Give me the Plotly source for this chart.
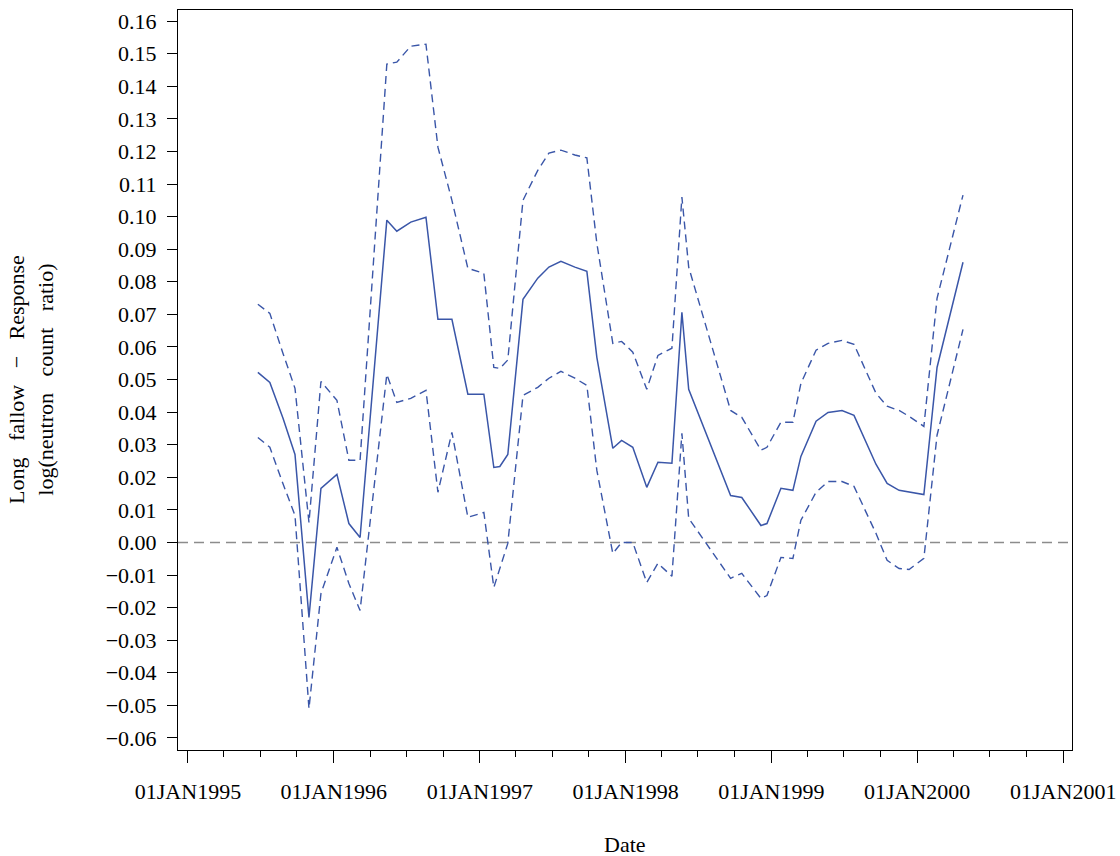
import plotly.graph_objects as go

dates = [
    "1995-06-25", "1995-07-25", "1995-08-27", "1995-09-26", "1995-10-31", "1995-11-30",
    "1996-01-09", "1996-02-08", "1996-03-07", "1996-05-13", "1996-06-07", "1996-07-12",
    "1996-08-19", "1996-09-18", "1996-10-23", "1996-12-02", "1997-01-11", "1997-02-05",
    "1997-02-20", "1997-03-12", "1997-04-19", "1997-05-26", "1997-06-23", "1997-07-23",
    "1997-08-27", "1997-09-26", "1997-10-21", "1997-11-30", "1997-12-22", "1998-01-19",
    "1998-02-23", "1998-03-23", "1998-04-27", "1998-05-22", "1998-06-08", "1998-09-21",
    "1998-10-19", "1998-12-06", "1998-12-21", "1999-01-25", "1999-02-24", "1999-03-16",
    "1999-04-23", "1999-05-23", "1999-06-27", "1999-07-27", "1999-09-20", "1999-10-18",
    "1999-11-17", "1999-12-12", "2000-01-18", "2000-02-20", "2000-04-25",
]

estimate = [
    0.0522, 0.0491, 0.0381, 0.0270, -0.0230, 0.0166,
    0.0209, 0.0058, 0.0015, 0.0989, 0.0955, 0.0983,
    0.0998, 0.0685, 0.0685, 0.0455, 0.0455, 0.0230,
    0.0233, 0.0270, 0.0746, 0.0811, 0.0845, 0.0863,
    0.0845, 0.0832, 0.0568, 0.0289, 0.0313, 0.0292,
    0.0169, 0.0246, 0.0243, 0.0706, 0.0470, 0.0144,
    0.0138, 0.0052, 0.0058, 0.0166, 0.0160, 0.0264,
    0.0372, 0.0399, 0.0405, 0.0390, 0.0240, 0.0181,
    0.0160, 0.0154, 0.0147, 0.0537, 0.0860,
]

upper = [
    0.0731, 0.0703, 0.0580, 0.0473, 0.0061, 0.0494,
    0.0436, 0.0252, 0.0252, 0.1468, 0.1474, 0.1523,
    0.1529, 0.1213, 0.1050, 0.0841, 0.0826, 0.0537,
    0.0534, 0.0560, 0.1050, 0.1142, 0.1195, 0.1204,
    0.1189, 0.1180, 0.0918, 0.0611, 0.0617, 0.0584,
    0.0470, 0.0574, 0.0596, 0.1060, 0.0845, 0.0405,
    0.0384, 0.0283, 0.0292, 0.0369, 0.0369, 0.0488,
    0.0590, 0.0611, 0.0620, 0.0608, 0.0458, 0.0418,
    0.0405, 0.0387, 0.0356, 0.0749, 0.1066,
]

lower = [
    0.0322, 0.0292, 0.0180, 0.0083, -0.0510, -0.0157,
    -0.0015, -0.0126, -0.0209, 0.0516, 0.0430, 0.0442,
    0.0467, 0.0154, 0.0338, 0.0077, 0.0092, -0.0138,
    -0.0080, -0.0003, 0.0451, 0.0476, 0.0504, 0.0525,
    0.0504, 0.0482, 0.0221, -0.0034, 0.0000, 0.0000,
    -0.0123, -0.0064, -0.0104, 0.0335, 0.0074, -0.0110,
    -0.0095, -0.0172, -0.0163, -0.0046, -0.0049, 0.0068,
    0.0154, 0.0187, 0.0187, 0.0172, 0.0028, -0.0055,
    -0.0080, -0.0083, -0.0049, 0.0329, 0.0654,
]

x_tick_vals = ["1995-01-01", "1996-01-01", "1997-01-01", "1998-01-01",
               "1999-01-01", "2000-01-01", "2001-01-01"]
x_tick_text = ["01JAN1995", "01JAN1996", "01JAN1997", "01JAN1998",
               "01JAN1999", "01JAN2000", "01JAN2001"]

blue = "#3A56A8"
serif = "Liberation Serif"
tick_font = dict(family=serif, size=22, color="black")
gap = "\u00a0 \u00a0"

fig = go.Figure()

fig.add_trace(go.Scatter(
    x=["1994-12-07", "2001-01-23"], y=[0, 0], mode="lines",
    line=dict(color="#8C8C8C", width=1.5, dash="10px,6px"),
    hoverinfo="skip", showlegend=False,
))
fig.add_trace(go.Scatter(
    x=dates, y=upper, mode="lines",
    line=dict(color=blue, width=1.4, dash="8px,5px"), showlegend=False,
))
fig.add_trace(go.Scatter(
    x=dates, y=lower, mode="lines",
    line=dict(color=blue, width=1.4, dash="8px,5px"), showlegend=False,
))
fig.add_trace(go.Scatter(
    x=dates, y=estimate, mode="lines",
    line=dict(color=blue, width=1.5), showlegend=False,
))

fig.update_layout(
    width=1120, height=856,
    margin=dict(l=178, r=48, t=10, b=106),
    paper_bgcolor="white", plot_bgcolor="white",
    font=dict(family=serif, size=22, color="black"),
    xaxis=dict(
        type="date", automargin=False,
        range=["1994-12-07", "2001-01-23"],
        tickmode="array", tickvals=x_tick_vals, ticktext=x_tick_text,
        tickfont=tick_font,
        ticks="outside", ticklen=12, tickwidth=1, tickcolor="black",
        minor=dict(dtick="M3", tick0="1995-01-01", ticks="outside",
                   ticklen=6, tickwidth=1, tickcolor="black", showgrid=False),
        showline=True, linecolor="black", linewidth=1, mirror=True,
        showgrid=False, zeroline=False,
        ticklabelstandoff=10,
    ),
    yaxis=dict(
        automargin=False,
        range=[-0.0637, 0.1634],
        tick0=0, dtick=0.01, tickformat=".2f",
        tickfont=tick_font,
        ticks="outside", ticklen=10, tickwidth=1, tickcolor="black",
        showline=True, linecolor="black", linewidth=1, mirror=True,
        showgrid=False, zeroline=False,
        ticklabelstandoff=6,
    ),
    annotations=[
        dict(
            text=("Long" + gap + "fallow" + gap + "\u2212" + gap + "Response<br>"
                  "log(neutron" + gap + "count" + gap + "ratio)"),
            xref="paper", yref="paper",
            x=(31 - 178) / 894, y=0.5,
            xanchor="center", yanchor="middle",
            textangle=-90, showarrow=False,
            font=dict(family=serif, size=22, color="black"),
        ),
        dict(
            text="Date",
            xref="paper", yref="paper",
            x=0.5, y=(750 - 845) / 740,
            xanchor="center", yanchor="middle",
            showarrow=False,
            font=dict(family=serif, size=22, color="black"),
        ),
    ],
)

fig.write_html("out.html")
